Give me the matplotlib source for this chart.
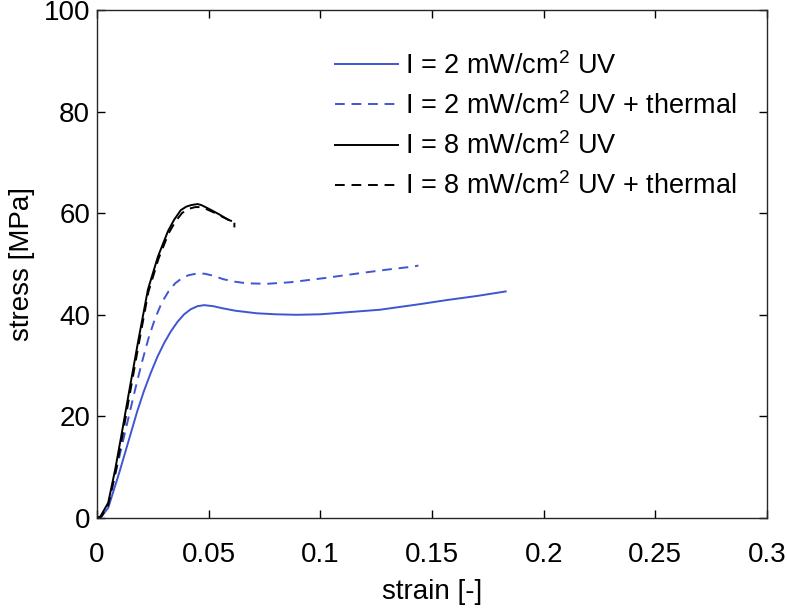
import matplotlib
matplotlib.use("Agg")
import matplotlib.pyplot as plt

plt.rcParams["font.family"] = ["Liberation Sans", "DejaVu Sans"]
plt.rcParams["mathtext.fontset"] = "custom"
plt.rcParams["mathtext.rm"] = "Liberation Sans"
plt.rcParams["mathtext.it"] = "Liberation Sans:italic"

# stress-strain curves
blue_uv_strain = [0, 0.002, 0.005, 0.010, 0.014, 0.018, 0.021, 0.024, 0.027, 0.030,
                  0.033, 0.036, 0.039, 0.042, 0.045, 0.048, 0.052, 0.056, 0.062, 0.0715,
                  0.080, 0.0894, 0.10, 0.109, 0.1267, 0.1446, 0.1566, 0.170, 0.183]
blue_uv_stress = [0, 0.3, 2.0, 9.0, 15.0, 21.0, 25.0, 28.5, 31.7, 34.4,
                  36.7, 38.6, 40.1, 41.1, 41.7, 41.9, 41.7, 41.3, 40.8, 40.3,
                  40.1, 40.0, 40.1, 40.4, 41.0, 42.1, 42.9, 43.7, 44.6]

blue_th_strain = [0, 0.002, 0.005, 0.011, 0.0169, 0.020, 0.023, 0.026, 0.029, 0.032,
                  0.035, 0.038, 0.041, 0.0445, 0.048, 0.052, 0.0566, 0.062, 0.067, 0.076,
                  0.0864, 0.1013, 0.1178, 0.130, 0.1417, 0.1439]
blue_th_stress = [0, 0.3, 2.5, 14.0, 25.0, 30.5, 35.3, 39.3, 42.4, 44.6,
                  46.2, 47.2, 47.8, 48.1, 48.1, 47.7, 47.0, 46.5, 46.2, 46.1,
                  46.4, 47.2, 48.2, 48.9, 49.5, 49.7]

black_uv_strain = [0, 0.0015, 0.005, 0.0081, 0.011, 0.014, 0.0185, 0.0228, 0.0273, 0.0318,
                   0.0345, 0.0375, 0.040, 0.0422, 0.045, 0.0467, 0.049, 0.0512, 0.055, 0.0587, 0.060]
black_uv_stress = [0, 0.3, 3.0, 9.5, 16.5, 24.0, 35.0, 45.0, 51.5, 56.5,
                   58.7, 60.6, 61.3, 61.6, 61.8, 61.6, 61.1, 60.6, 59.7, 58.7, 58.5]

black_th_strain = [0, 0.002, 0.005, 0.0085, 0.0115, 0.0145, 0.019, 0.023, 0.0275, 0.032,
                   0.035, 0.038, 0.0405, 0.044, 0.047, 0.050, 0.053, 0.056, 0.0595, 0.0615, 0.0615]
black_th_stress = [0, 0.3, 2.5, 9.5, 16.5, 24.0, 35.0, 44.5, 51.0, 56.0,
                   58.3, 60.0, 60.8, 61.2, 61.2, 60.6, 60.0, 59.3, 58.6, 58.5, 57.2]

labels = [r"I = 2 mW/cm$^2$ UV", r"I = 2 mW/cm$^2$ UV + thermal",
          r"I = 8 mW/cm$^2$ UV", r"I = 8 mW/cm$^2$ UV + thermal"]

blue = "#3f55d2"

fig = plt.figure(figsize=(7.87, 6.09), dpi=100)
ax = fig.add_axes([0.1233, 0.1494, 0.8513, 0.8342])

ax.plot(blue_uv_strain, blue_uv_stress, color=blue, lw=1.4, label=labels[0])
ax.plot(blue_th_strain, blue_th_stress, color=blue, lw=1.4, ls=(0, (5, 3.5)), label=labels[1])
ax.plot(black_uv_strain, black_uv_stress, color="black", lw=1.4, label=labels[2])
ax.plot(black_th_strain, black_th_stress, color="black", lw=1.4, ls=(0, (5, 3.5)), label=labels[3])

ax.set_xlim(0, 0.3)
ax.set_ylim(0, 100)
ax.set_xticks([0, 0.05, 0.1, 0.15, 0.2, 0.25, 0.3])
ax.set_xticklabels(["0", "0.05", "0.1", "0.15", "0.2", "0.25", "0.3"])
ax.set_yticks([0, 20, 40, 60, 80, 100])
ax.tick_params(direction="in", length=6, width=1, labelsize=20, top=True, right=True, pad=5)
ax.tick_params(axis="x", pad=17)
for spine in ax.spines.values():
    spine.set_linewidth(1.0)
    spine.set_color("#262626")

ax.set_xlabel("strain [-]", fontsize=20, labelpad=8)
ax.set_ylabel("stress [MPa]", fontsize=20, labelpad=6)

ax.legend(loc="upper right", bbox_to_anchor=(0.982, 0.955), frameon=False, fontsize=19.5,
          handlelength=2.33, handletextpad=0.26, labelspacing=0.46, borderpad=0.2)

fig.savefig("out.png", dpi=100)
